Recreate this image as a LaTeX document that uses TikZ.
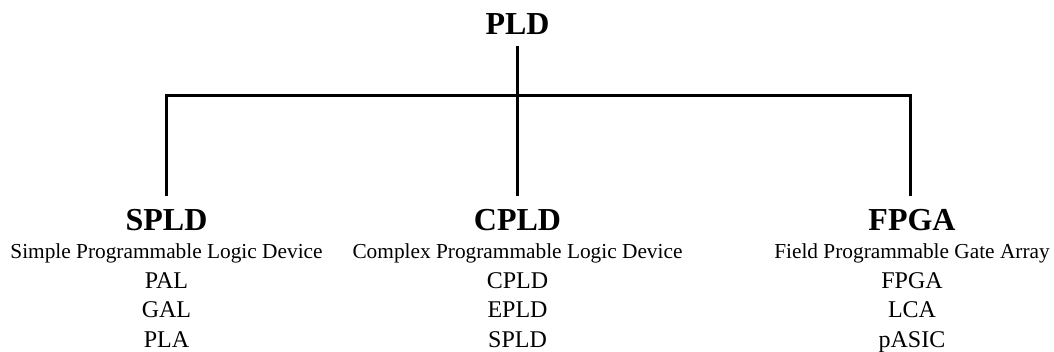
\documentclass[tikz,border=0pt]{standalone}
\usepackage{fontspec}
\setmainfont{Liberation Serif}
\begin{document}
\begin{tikzpicture}[x=0.75pt,y=-0.75pt,
  head/.style={anchor=base,inner sep=0pt,font=\fontsize{24}{28}\selectfont\bfseries},
  sub/.style={anchor=base,inner sep=0pt,font=\fontsize{16}{19}\selectfont},
  item/.style={anchor=base,inner sep=0pt,font=\fontsize{18}{22}\selectfont},
  conn/.style={line width=2.25pt,line join=miter,shorten <=8pt,shorten >=10.3pt}]
\useasboundingbox (0,0) rectangle (1054,352);
% root
\node[head] (pld) at (517.5,35) {PLD};
% headings
\node[head] (spld) at (166.5,231) {SPLD};
\node[head] (cpld) at (517.5,231) {CPLD};
\node[head] (fpga) at (912,231) {FPGA};
% subtitles
\node[sub] (spldsub) at (166.5,259) {Simple Programmable Logic Device};
\node[sub] (cpldsub) at (517.5,259) {Complex Programmable Logic Device};
\node[sub] (fpgasub) at (912,259) {Field Programmable Gate Array};
% items
\node[item] (pal) at (166.5,288.5) {PAL};
\node[item] (gal) at (166.5,318) {GAL};
\node[item] (pla) at (166.5,347.5) {PLA};
\node[item] (cpldi) at (517.5,288.5) {CPLD};
\node[item] (epld) at (517.5,318) {EPLD};
\node[item] (spldi) at (517.5,347.5) {SPLD};
\node[item] (fpgai) at (912,288.5) {FPGA};
\node[item] (lca) at (912,318) {LCA};
\node[item] (pasic) at (912,347.5) {pASIC};
% connectors
\coordinate (bar) at (517.5,96);
\draw[conn] (pld.south) -- (cpld.north);
\draw[conn,shorten <=10.3pt] (spld.north) |- (bar) -| ([xshift=-1.1pt]fpga.north);
\end{tikzpicture}
\end{document}
